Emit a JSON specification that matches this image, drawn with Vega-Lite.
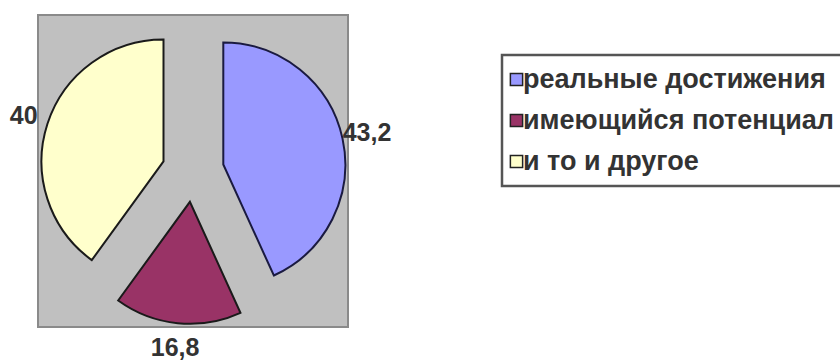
{
  "$schema": "https://vega.github.io/schema/vega-lite/v6.json",
  "autosize": {"type": "none"},
  "padding": {"left": 38, "top": 15, "right": 492, "bottom": 33},
  "width": 310,
  "height": 312,
  "background": "white",
  "data": {
    "values": [
      {"category": "реальные достижения", "value": 43.2, "label": "43,2", "k": 1},
      {"category": "имеющийся потенциал", "value": 16.8, "label": "16,8", "k": 2},
      {"category": "и то и другое", "value": 40, "label": "40", "k": 3}
    ]
  },
  "layer": [
    {
      "data": {"values": [{"panel": "plot"}]},
      "mark": {"type": "rect", "fill": "#c0c0c0", "stroke": "#8a8a8a", "strokeWidth": 2},
      "encoding": {
        "x": {"value": 0},
        "x2": {"value": "width"},
        "y": {"value": 0},
        "y2": {"value": "height"}
      }
    },
    {
      "encoding": {
        "theta": {"field": "value", "type": "quantitative", "stack": true},
        "order": {"field": "k", "type": "quantitative"},
        "color": {
          "field": "category",
          "type": "nominal",
          "sort": ["реальные достижения", "имеющийся потенциал", "и то и другое"],
          "scale": {
            "domain": ["реальные достижения", "имеющийся потенциал", "и то и другое"],
            "range": ["#9999FF", "#993366", "#FFFFCC"]
          },
          "legend": {
            "title": null,
            "orient": "none",
            "legendX": 464,
            "legendY": 40,
            "padding": 11,
            "fillColor": "white",
            "strokeColor": "#555555",
            "symbolType": "square",
            "symbolSize": 150,
            "symbolOffset": -10,
            "symbolStrokeColor": "#222222",
            "symbolStrokeWidth": 1.5,
            "symbolOpacity": 1,
            "labelFont": "Liberation Sans",
            "labelFontSize": 27,
            "labelFontWeight": "bold",
            "labelColor": "#333333",
            "labelOffset": -7,
            "labelLimit": 400,
            "rowPadding": 13
          }
        }
      },
      "layer": [
        {
          "mark": {"type": "arc", "radius": 122, "xOffset": 30.3, "yOffset": -6.5, "stroke": "#1a1a40", "strokeWidth": 2},
          "encoding": {
            "opacity": {"condition": {"test": "datum.k == 1", "value": 1}, "value": 0}
          }
        },
        {
          "mark": {"type": "arc", "radius": 122, "xOffset": -3.1, "yOffset": 30.8, "stroke": "#1a1a1a", "strokeWidth": 2},
          "encoding": {
            "opacity": {"condition": {"test": "datum.k == 2", "value": 1}, "value": 0}
          }
        },
        {
          "mark": {"type": "arc", "radius": 122, "xOffset": -29.5, "yOffset": -9.6, "stroke": "#1a1a1a", "strokeWidth": 2},
          "encoding": {
            "opacity": {"condition": {"test": "datum.k == 3", "value": 1}, "value": 0}
          }
        },
        {
          "mark": {"type": "text", "radius": 178, "font": "Liberation Sans", "fontSize": 25, "fontWeight": "bold"},
          "encoding": {
            "text": {"field": "label"},
            "color": {"value": "#333333"}
          }
        }
      ]
    }
  ],
  "config": {"legend": {"strokeWidth": 2.5}}
}
